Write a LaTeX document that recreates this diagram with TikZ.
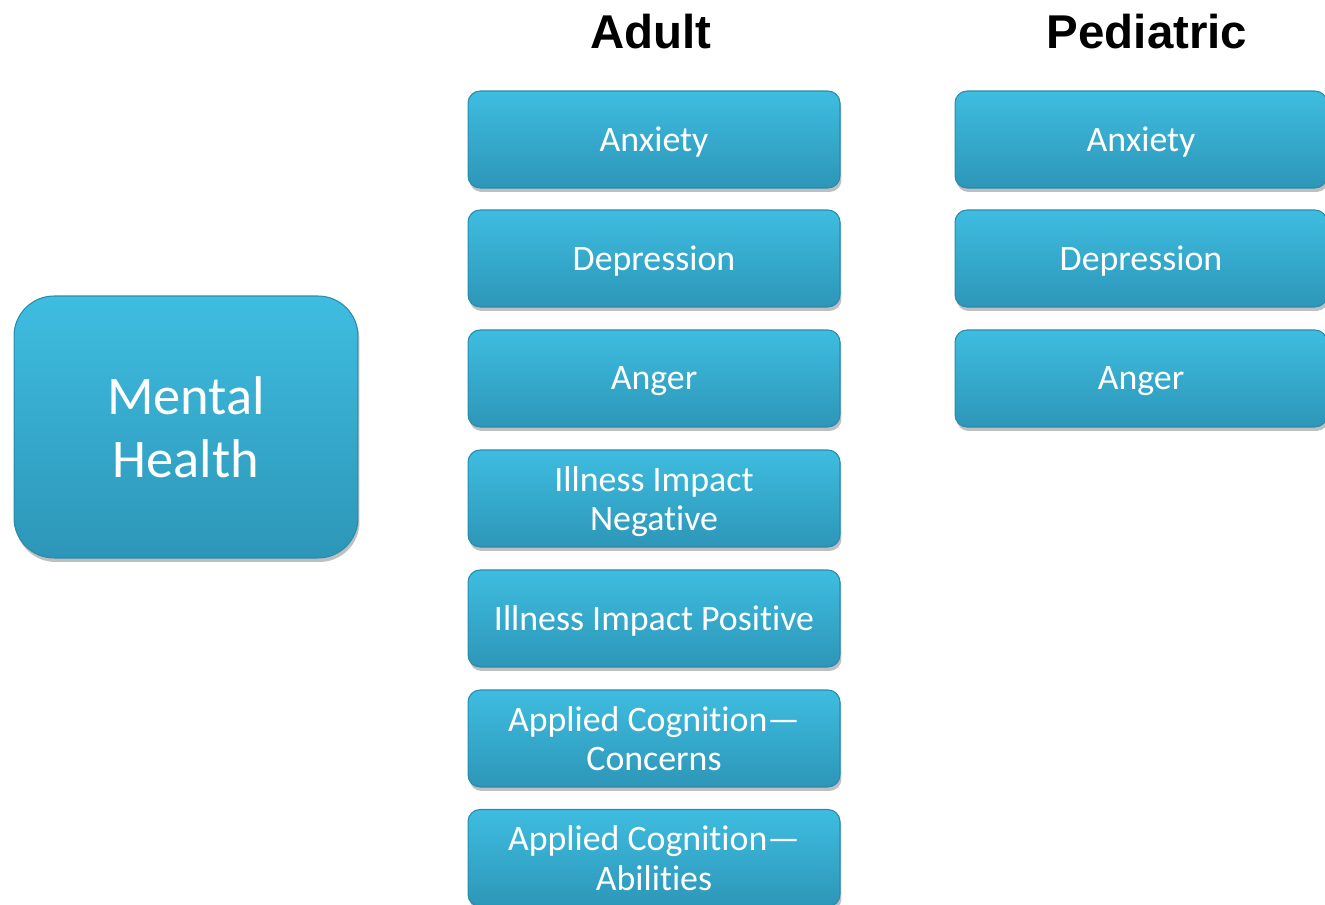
\documentclass[tikz,border=0pt]{standalone}
\usepackage{fontspec}
\setmainfont{Carlito}[Ligatures=NoCommon]
\newfontfamily\headfont{Liberation Sans}
\usetikzlibrary{shadows}

\definecolor{boxtop}{RGB}{62,189,224}
\definecolor{boxbot}{RGB}{45,150,184}
\definecolor{boxedge}{RGB}{40,140,172}

\tikzset{
  tile/.style={rounded corners=0.24cm, draw=boxedge, line width=0.6pt,
    top color=boxtop, bottom color=boxbot, text=white,
    drop shadow={shadow xshift=0.03cm, shadow yshift=-0.08cm, opacity=0.5},
    minimum width=7.44cm, minimum height=1.94cm, align=center,
    font=\fontsize{20.4}{22.7}\selectfont, inner sep=0pt, text depth=0pt},
  bigtile/.style={tile, rounded corners=0.8cm, minimum width=6.88cm,
    minimum height=5.24cm, font=\fontsize{31}{36}\selectfont},
  head/.style={font=\headfont\bfseries\fontsize{27}{30}\selectfont}
}

\begin{document}
\begin{tikzpicture}[x=0.02cm, y=-0.02cm]

  \useasboundingbox (0,0) rectangle (1325,905);
  \clip (0,0) rectangle (1325,905);

  \node[bigtile] (mental) at (186,427) {Mental\\Health};

  % adult column
  \node[head] (adult) at (651,32) {Adult};

  \node[tile] (aanx) at (654,139.5) {Anxiety};
  \node[tile] (adep) at (654,258.5) {Depression};
  \node[tile] (aang) at (654,378.5) {Anger};
  \node[tile] (aneg) at (654,498.5) {Illness Impact\\Negative};
  \node[tile] (apos) at (654,618.5) {Illness Impact Positive};
  \node[tile] (acon) at (654,738.5) {Applied Cognition---\\Concerns};
  \node[tile] (aabi) at (654,858) {Applied Cognition---\\Abilities};

  % pediatric column
  \node[head] (pediatric) at (1147,32) {Pediatric};

  \node[tile] (panx) at (1141,139.5) {Anxiety};
  \node[tile] (pdep) at (1141,258.5) {Depression};
  \node[tile] (pang) at (1141,378.5) {Anger};

\end{tikzpicture}
\end{document}
